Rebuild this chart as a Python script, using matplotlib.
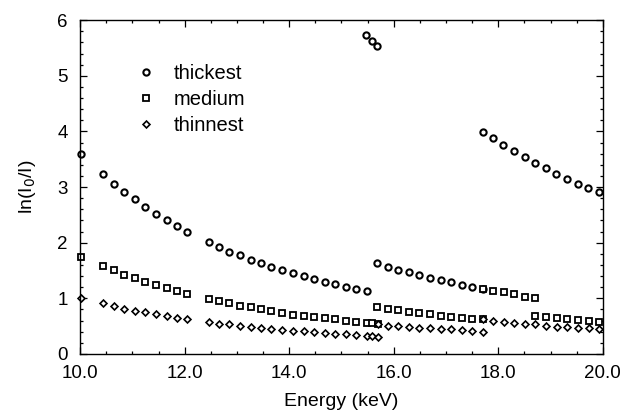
import matplotlib
matplotlib.use("Agg")
import matplotlib.pyplot as plt
from matplotlib.ticker import MultipleLocator, FormatStrFormatter

plt.rcParams['font.family'] = ['Liberation Sans', 'DejaVu Sans']

# ---- data ----
thick_x = [10.02,
           10.43, 10.64, 10.84, 11.05, 11.25, 11.45, 11.66, 11.85, 12.05,
           12.46, 12.66, 12.85, 13.06, 13.26, 13.46, 13.66, 13.87, 14.07, 14.28,
           14.48, 14.69, 14.88, 15.08, 15.28, 15.48,
           15.47, 15.58, 15.68,
           15.68, 15.89, 16.09, 16.29, 16.49, 16.69, 16.90, 17.10, 17.30, 17.50, 17.70,
           17.70, 17.90, 18.09, 18.30, 18.51, 18.71, 18.91, 19.11, 19.32, 19.52, 19.72, 19.93]
thick_y = [3.59,
           3.23, 3.06, 2.91, 2.78, 2.64, 2.51, 2.41, 2.30, 2.19,
           2.01, 1.93, 1.84, 1.77, 1.69, 1.63, 1.57, 1.50, 1.45, 1.40,
           1.35, 1.30, 1.25, 1.21, 1.17, 1.13,
           5.73, 5.62, 5.54,
           1.63, 1.56, 1.51, 1.47, 1.41, 1.37, 1.32, 1.29, 1.24, 1.21, 1.17,
           3.99, 3.88, 3.76, 3.64, 3.54, 3.44, 3.34, 3.24, 3.15, 3.06, 2.99, 2.91]

medium_x = [10.02,
            10.43, 10.64, 10.84, 11.05, 11.25, 11.45, 11.66, 11.85, 12.05,
            12.46, 12.66, 12.85, 13.06, 13.26, 13.46, 13.66, 13.87, 14.07, 14.28,
            14.48, 14.69, 14.88, 15.08, 15.28, 15.49, 15.59, 15.69,
            15.68, 15.89, 16.09, 16.29, 16.49, 16.69, 16.90, 17.10, 17.30, 17.50, 17.70,
            17.70, 17.90, 18.10, 18.30, 18.51, 18.71,
            18.71, 18.92, 19.12, 19.32, 19.53, 19.73, 19.93]
medium_y = [1.75,
            1.58, 1.50, 1.42, 1.36, 1.30, 1.23, 1.18, 1.14, 1.08,
            0.99, 0.95, 0.91, 0.87, 0.84, 0.81, 0.77, 0.73, 0.70, 0.68,
            0.66, 0.64, 0.63, 0.60, 0.58, 0.56, 0.55, 0.54,
            0.84, 0.81, 0.79, 0.75, 0.73, 0.71, 0.68, 0.66, 0.65, 0.63, 0.62,
            1.17, 1.14, 1.11, 1.07, 1.03, 1.01,
            0.68, 0.66, 0.64, 0.63, 0.61, 0.60, 0.58]

thin_x = [10.02,
          10.43, 10.64, 10.84, 11.05, 11.25, 11.45, 11.66, 11.85, 12.05,
          12.46, 12.66, 12.85, 13.06, 13.26, 13.46, 13.66, 13.87, 14.07, 14.28,
          14.48, 14.69, 14.88, 15.08, 15.28, 15.49, 15.59, 15.69,
          15.69, 15.89, 16.09, 16.29, 16.49, 16.69, 16.90, 17.10, 17.30, 17.50, 17.70,
          17.70, 17.90, 18.10, 18.30, 18.51, 18.71, 18.92, 19.12, 19.32, 19.53, 19.73, 19.93]
thin_y = [1.00,
          0.91, 0.86, 0.81, 0.78, 0.75, 0.71, 0.68, 0.65, 0.63,
          0.57, 0.54, 0.53, 0.50, 0.48, 0.47, 0.45, 0.43, 0.42, 0.41,
          0.39, 0.38, 0.36, 0.35, 0.34, 0.32, 0.32, 0.31,
          0.54, 0.51, 0.50, 0.48, 0.47, 0.46, 0.45, 0.44, 0.43, 0.41, 0.40,
          0.62, 0.60, 0.57, 0.56, 0.54, 0.53, 0.51, 0.49, 0.48, 0.47, 0.47, 0.45]

labels = ["thickest", "medium", "thinnest"]

# ---- figure ----
fig = plt.figure(figsize=(6.26, 4.12), dpi=100)
ax = fig.add_axes([0.128, 0.141, 0.835, 0.810])

ax.plot(thick_x, thick_y, 'o', ms=4.5, mfc='white', mec='black', mew=1.5,
        clip_on=False, label=labels[0])
ax.plot(medium_x, medium_y, 's', ms=4.8, mfc='white', mec='black', mew=1.3,
        clip_on=False, label=labels[1])
ax.plot(thin_x, thin_y, 'D', ms=3.5, mfc='white', mec='black', mew=1.2,
        clip_on=False, label=labels[2])

ax.set_xlim(10, 20)
ax.set_ylim(0, 6)
ax.xaxis.set_major_locator(MultipleLocator(2))
ax.xaxis.set_minor_locator(MultipleLocator(0.5))
ax.xaxis.set_major_formatter(FormatStrFormatter('%.1f'))
ax.yaxis.set_major_locator(MultipleLocator(1))
ax.yaxis.set_minor_locator(MultipleLocator(0.2))

ax.tick_params(which='both', direction='in', top=True, right=True,
               labelsize=13.5, width=0.9)
ax.tick_params(axis='x', pad=8)
ax.tick_params(axis='y', pad=9)
ax.tick_params(which='major', length=5)
ax.tick_params(which='minor', length=2.5)
for s in ax.spines.values():
    s.set_linewidth(1.0)

ax.set_xlabel('Energy (keV)', fontsize=14, labelpad=8)
ax.set_ylabel('ln(I$_0$/I)', fontsize=14, labelpad=14)

ax.legend(loc='upper left', bbox_to_anchor=(0.083, 0.898), frameon=False,
          fontsize=14.5, handletextpad=0.8, labelspacing=0.35,
          handlelength=1.2, borderpad=0)

fig.savefig('out.png', dpi=100)
